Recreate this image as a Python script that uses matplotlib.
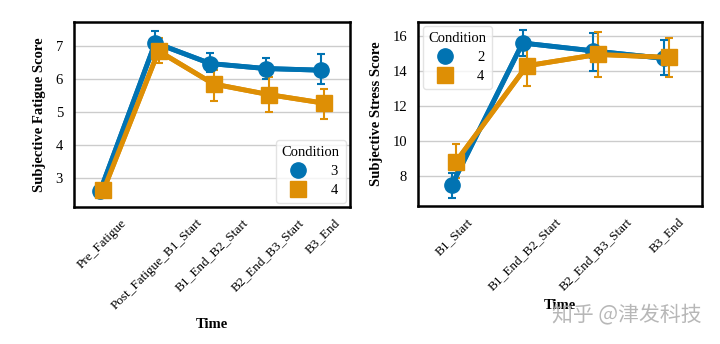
import numpy as np
import matplotlib.pyplot as plt

# fatigue panel
fat_times = ["Pre_Fatigue", "Post_Fatigue_B1_Start", "B1_End_B2_Start", "B2_End_B3_Start", "B3_End"]
fat_c3 = [2.60, 7.10, 6.47, 6.32, 6.27]
fat_c3_lo = [2.48, 6.75, 6.20, 6.00, 5.85]
fat_c3_hi = [2.72, 7.47, 6.80, 6.65, 6.75]
fat_c4 = [2.63, 6.85, 5.85, 5.53, 5.27]
fat_c4_lo = [2.50, 6.48, 5.33, 5.00, 4.80]
fat_c4_hi = [2.76, 7.25, 6.27, 6.05, 5.70]

# stress panel
str_times = ["B1_Start", "B1_End_B2_Start", "B2_End_B3_Start", "B3_End"]
str_c2 = [7.47, 15.60, 15.15, 14.72]
str_c2_lo = [6.75, 14.85, 14.02, 13.75]
str_c2_hi = [8.15, 16.34, 16.20, 15.80]
str_c4 = [8.82, 14.30, 14.95, 14.78]
str_c4_lo = [7.90, 13.13, 13.66, 13.66]
str_c4_hi = [9.85, 15.52, 16.23, 15.87]

blue = "#0173b2"
orange = "#de8f05"

plt.rcParams["font.family"] = ["Liberation Serif", "DejaVu Serif"]
plt.rcParams["font.size"] = 9

fig = plt.figure(figsize=(7.2, 3.44), dpi=100)
ax1 = fig.add_axes([0.103, 0.398, 0.383, 0.538])
ax2 = fig.add_axes([0.581, 0.401, 0.394, 0.535])


def draw(ax, labels, series, ylim, yticks, ylabel, legend_loc):
    x = np.arange(len(labels))
    handles = []
    for (name, y, lo, hi, color, marker, off) in series:
        y = np.array(y)
        err = [y - np.array(lo), np.array(hi) - y]
        ax.errorbar(x + off, y, yerr=err, color=color, lw=3.5, capsize=3,
                    elinewidth=1.5, capthick=1.5, zorder=3)
        h, = ax.plot(x + off, y, color=color, lw=3.5, marker=marker, ms=11,
                     zorder=4, label=name)
        handles.append(h)
    ax.set_xlim(-0.5, len(labels) - 0.5)
    ax.set_ylim(*ylim)
    ax.set_yticks(yticks)
    ax.set_xticks(x)
    ax.set_xticklabels(labels, rotation=45)
    ax.tick_params(axis="x", length=0, labelsize=9.5, pad=7)
    ax.tick_params(axis="y", length=0, labelsize=10.5, pad=8)
    ax.yaxis.grid(True, color="#cccccc", lw=1)
    ax.set_axisbelow(True)
    for s in ax.spines.values():
        s.set_linewidth(1.8)
        s.set_color("black")
    ax.set_ylabel(ylabel, fontweight="bold", fontsize=10.5, labelpad=7)
    ax.set_xlabel("Time", fontweight="bold", fontsize=10.5, labelpad=4)
    leg = ax.legend(handles=[plt.Line2D([], [], color=h.get_color(), marker=h.get_marker(),
                                        ls="none", ms=11) for h in handles],
                    labels=[h.get_label() for h in handles], title="Condition",
                    loc=legend_loc, fontsize=10.5, title_fontsize=10.5,
                    handletextpad=1.2, borderaxespad=0.3, labelspacing=0.4,
                    frameon=True)
    leg.get_frame().set_edgecolor("#dddddd")


draw(ax1, fat_times,
     [("3", fat_c3, fat_c3_lo, fat_c3_hi, blue, "o", -0.03),
      ("4", fat_c4, fat_c4_lo, fat_c4_hi, orange, "s", 0.03)],
     (2.12, 7.73), [3, 4, 5, 6, 7], "Subjective Fatigue Score", "lower right")

draw(ax2, str_times,
     [("2", str_c2, str_c2_lo, str_c2_hi, blue, "o", -0.03),
      ("4", str_c4, str_c4_lo, str_c4_hi, orange, "s", 0.03)],
     (6.29, 16.8), [8, 10, 12, 14, 16], "Subjective Stress Score", "upper left")

fig.text(0.975, 0.085, "知乎 @津发科技", family=["Noto Sans CJK SC", "DejaVu Sans"],
         fontsize=15, color="#b0b0b0", ha="right", va="center", alpha=0.9)

fig.savefig("out.png", dpi=100)
